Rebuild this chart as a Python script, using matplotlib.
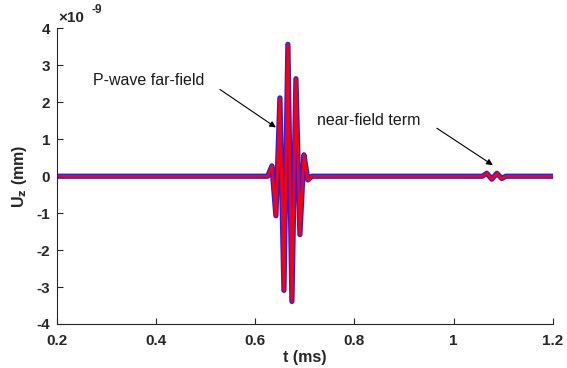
import matplotlib
matplotlib.use("Agg")
import matplotlib.pyplot as plt

plt.rcParams['font.family'] = ['Liberation Sans', 'DejaVu Sans']

# time samples (ms) and displacement (x1e-9 mm)
t_ms = [0.20, 0.625, 0.6335, 0.6415, 0.6496, 0.6577, 0.6657, 0.6738, 0.6819,
        0.6899, 0.6980, 0.7060, 0.714, 1.050, 1.0580, 1.0669, 1.0770, 1.0871,
        1.0972, 1.1050, 1.20]
uz = [0.0, 0.0, 0.28, -1.07, 2.12, -3.09, 3.57, -3.39, 2.64,
      -1.58, 0.58, -0.10, 0.0, 0.0, 0.0, 0.08, -0.08, 0.08,
      -0.06, 0.0, 0.0]

xticks = [0.2, 0.4, 0.6, 0.8, 1.0, 1.2]
xticklabels = ['0.2', '0.4', '0.6', '0.8', '1', '1.2']
yticks = [-4, -3, -2, -1, 0, 1, 2, 3, 4]
yticklabels = ['-4', '-3', '-2', '-1', '0', '1', '2', '3', '4']

fig = plt.figure(figsize=(5.67, 3.68), dpi=100)
ax = fig.add_axes([0.1005, 0.1196, 0.8745, 0.803])

ax.plot(t_ms, uz, color='#1f1fff', lw=3.8, solid_joinstyle='round',
        solid_capstyle='round')
ax.plot(t_ms, uz, color='#ff0000', lw=2.0, solid_joinstyle='round',
        solid_capstyle='round')

ax.set_xlim(0.2, 1.2)
ax.set_ylim(-4, 4)
ax.set_xticks(xticks)
ax.set_xticklabels(xticklabels)
ax.set_yticks(yticks)
ax.set_yticklabels(yticklabels)

for s in ['top', 'right']:
    ax.spines[s].set_visible(False)
for s in ['left', 'bottom']:
    ax.spines[s].set_color('#262626')
    ax.spines[s].set_linewidth(0.8)

ax.tick_params(direction='in', length=4, width=0.8, colors='#262626',
               labelsize=11)
ax.tick_params(axis='x', pad=7)
ax.tick_params(axis='y', pad=5)
for lab in ax.get_xticklabels() + ax.get_yticklabels():
    lab.set_fontweight('bold')
    lab.set_color('#262626')

ax.set_xlabel('t (ms)', fontsize=11.5, fontweight='bold', color='#262626',
              labelpad=2)
ax.set_ylabel(r'U$_\mathbf{z}$ (mm)', fontsize=11.5, fontweight='bold',
              color='#262626', labelpad=5)

fig.text(58 / 567, 1 - 18 / 368, '\u00d710', fontsize=11, fontweight='bold',
         color='#262626', va='center', ha='left')
fig.text(92 / 567, 1 - 10 / 368, '-9', fontsize=8.5, fontweight='bold',
         color='#262626', va='center', ha='left')

ax.annotate('', xy=(0.6415, 1.32), xytext=(0.5286, 2.35),
            arrowprops=dict(arrowstyle='-|>', color='k', lw=0.8,
                            mutation_scale=9, shrinkA=0, shrinkB=0))
ax.annotate('', xy=(1.079, 0.30), xytext=(0.9661, 1.30),
            arrowprops=dict(arrowstyle='-|>', color='k', lw=0.8,
                            mutation_scale=9, shrinkA=0, shrinkB=0))
ax.text(0.2726, 2.59, 'P-wave far-field', fontsize=11.5, va='center',
        ha='left', color='#1a1a1a')
ax.text(0.7242, 1.51, 'near-field term', fontsize=11.5, va='center',
        ha='left', color='#1a1a1a')

fig.savefig('out.png', dpi=100)
